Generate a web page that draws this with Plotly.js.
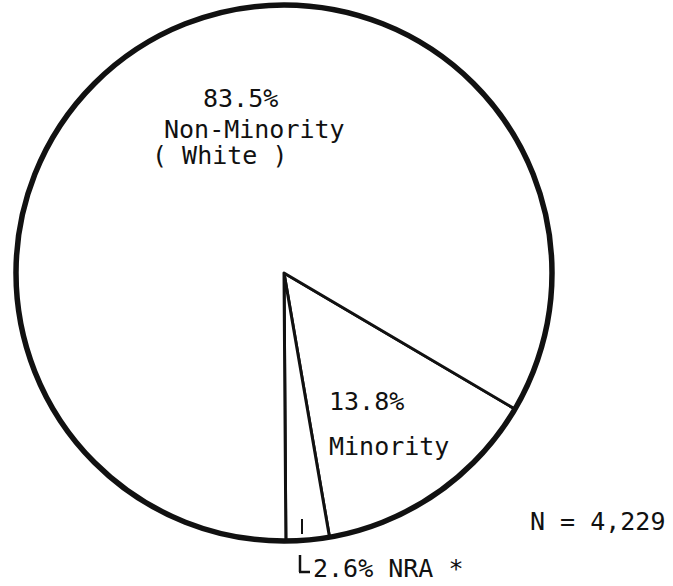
<!DOCTYPE html>
<html>
<head>
<meta charset="utf-8">
<script src="https://cdn.plot.ly/plotly-3.0.1.min.js"></script>
<style>
  html, body { margin: 0; padding: 0; background: #fff; }
  #chart { width: 673px; height: 586px; }
</style>
</head>
<body>
<div id="chart"></div>
<script>
// Enrollment by group
const categories = ['Minority', 'NRA *', 'Non-Minority (White)'];
const shares = [13.8, 2.6, 83.5];
const totalN = '4,229';

const W = 673, H = 586;
// pie centre and radius in pixels
const cx = 284, cy = 273, R = 268;
const px = x => x / W;
const py = y => 1 - y / H;

const FONT = { family: 'DejaVu Sans Mono, Liberation Mono, monospace', size: 25, color: '#111' };

const trace = {
  type: 'pie',
  labels: categories,
  values: shares,
  sort: false,
  direction: 'clockwise',
  rotation: 120.5,
  textinfo: 'none',
  hoverinfo: 'label+percent',
  marker: { colors: ['#ffffff', '#ffffff', '#ffffff'], line: { color: '#111', width: 3 } },
  domain: { x: [px(cx - R), px(cx + R)], y: [py(cy + R), py(cy - R)] },
  showlegend: false
};

function note(text, x, y, anchor) {
  return { text: text, x: px(x), y: py(y), xref: 'paper', yref: 'paper',
           xanchor: anchor || 'left', yanchor: 'middle', showarrow: false, font: FONT };
}

const annotations = [
  note(shares[2].toFixed(1) + '%', 201, 98),
  note('Non-Minority', 162, 129),
  note('( White )', 150, 156),
  note(shares[0].toFixed(1) + '%', 327, 401),
  note('Minority', 327, 446),
  note(shares[1].toFixed(1) + '% NRA *', 311, 568),
  note('N = ' + totalN, 528, 521)
];

const line = (x0, y0, x1, y1, w) => ({
  type: 'line', xref: 'paper', yref: 'paper',
  x0: px(x0), y0: py(y0), x1: px(x1), y1: py(y1),
  line: { color: '#111', width: w || 2 }
});

const shapes = [
  // heavy outer rim
  { type: 'circle', xref: 'paper', yref: 'paper',
    x0: px(cx - R), x1: px(cx + R), y0: py(cy + R), y1: py(cy - R),
    line: { color: '#111', width: 5.5 } },
  // pointer to the small NRA slice
  line(302, 519, 302, 534, 2),
  line(300, 555, 300, 572, 2.5),
  line(299, 572, 310, 572, 2.5)
];

Plotly.newPlot('chart', [trace], {
  width: W, height: H,
  margin: { l: 0, r: 0, t: 0, b: 0 },
  paper_bgcolor: '#fff',
  plot_bgcolor: '#fff',
  annotations: annotations,
  shapes: shapes
}, { displayModeBar: false, staticPlot: true });
</script>
</body>
</html>
